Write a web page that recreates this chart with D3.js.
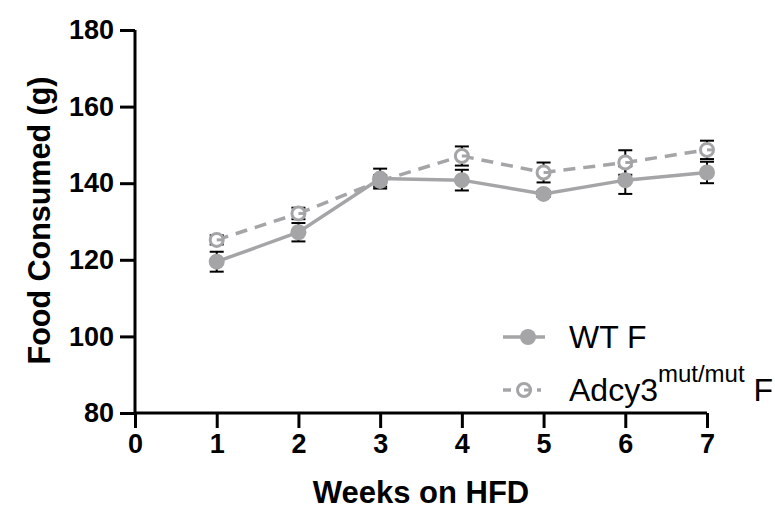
<!DOCTYPE html>
<html>
<head>
<meta charset="utf-8">
<script src="https://cdn.jsdelivr.net/npm/d3@7"></script>
<style>
  body { margin: 0; background: #fff; }
  text { font-family: "Liberation Sans", Arial, sans-serif; }
</style>
</head>
<body>
<div class="chart"></div>
<script>
let weeks = [1, 2, 3, 4, 5, 6, 7];
let wtMean = [119.5, 127.2, 141.2, 140.8, 137.2, 140.8, 142.8];
let wtSem = [2.6, 2.4, 2.6, 2.7, 0.8, 3.6, 2.8];
let mutMean = [125.2, 132.1, 140.6, 147.1, 142.8, 145.4, 148.7];
let mutSem = [1.2, 1.5, 1.5, 2.5, 2.6, 3.2, 2.4];
let xTicks = [0, 1, 2, 3, 4, 5, 6, 7];
let yTicks = [80, 100, 120, 140, 160, 180];

let svgWidth = 775;
let svgHeight = 514;
let margin = { top: 30, right: 68, bottom: 101, left: 135 };
let width = svgWidth - margin.left - margin.right;
let height = svgHeight - margin.top - margin.bottom;
let grey = "#a5a5a8";

let svg = d3.select(".chart")
  .append("svg")
  .attr("width", svgWidth)
  .attr("height", svgHeight);

let chartGroup = svg.append("g")
  .attr("transform", `translate(${margin.left}, ${margin.top})`);

let xScale = d3.scaleLinear().domain([0, 7]).range([0, width]);
let yScale = d3.scaleLinear().domain([80, 180]).range([height, 0]);

// axes
let bottomAxis = d3.axisBottom(xScale).tickValues(xTicks).tickSize(15).tickPadding(6).tickFormat(d3.format("d"));
let leftAxis = d3.axisLeft(yScale).tickValues(yTicks).tickSize(15).tickPadding(6);

let xAxis = chartGroup.append("g")
  .attr("transform", `translate(0, ${height})`)
  .call(bottomAxis);
let yAxis = chartGroup.append("g")
  .call(leftAxis);

[xAxis, yAxis].forEach(function(ax) {
  ax.select(".domain").attr("stroke", "#000").attr("stroke-width", 3);
  ax.selectAll(".tick line").attr("stroke", "#000").attr("stroke-width", 3);
  ax.selectAll(".tick text")
    .attr("fill", "#000")
    .style("font-size", "27px")
    .style("font-weight", "bold");
});
// plain axis lines, no end caps
xAxis.select(".domain").attr("d", `M0,0H${width}`);
yAxis.select(".domain").attr("d", `M0,${height}V0`);

// axis titles
chartGroup.append("text")
  .attr("x", width / 2)
  .attr("y", height + 90)
  .attr("text-anchor", "middle")
  .style("font-size", "31px")
  .style("font-weight", "bold")
  .text("Weeks on HFD");

chartGroup.append("text")
  .attr("transform", "rotate(-90)")
  .attr("x", -height / 2 + 1)
  .attr("y", -margin.left + 50)
  .attr("text-anchor", "middle")
  .style("font-size", "30.5px")
  .style("font-weight", "bold")
  .text("Food Consumed (g)");

let wtData = weeks.map((w, i) => ({ x: w, y: wtMean[i], e: wtSem[i] }));
let mutData = weeks.map((w, i) => ({ x: w, y: mutMean[i], e: mutSem[i] }));

let line = d3.line().x(d => xScale(d.x)).y(d => yScale(d.y));

// WT solid line
chartGroup.append("path")
  .datum(wtData)
  .attr("d", line)
  .attr("fill", "none")
  .attr("stroke", grey)
  .attr("stroke-width", 3.5);

// mutant dashed line, one segment per interval so each starts with a dash
chartGroup.selectAll(".mutseg")
  .data(d3.pairs(mutData))
  .enter()
  .append("path")
  .attr("class", "mutseg")
  .attr("d", d => line(d))
  .attr("fill", "none")
  .attr("stroke", grey)
  .attr("stroke-width", 3.5)
  .attr("stroke-dasharray", "12,8");

// error bars
function drawErr(data, cls) {
  let g = chartGroup.append("g").attr("class", cls);
  let items = g.selectAll("g").data(data).enter().append("g");
  items.append("line")
    .attr("x1", d => xScale(d.x)).attr("x2", d => xScale(d.x))
    .attr("y1", d => yScale(d.y - d.e)).attr("y2", d => yScale(d.y + d.e))
    .attr("stroke", "#000").attr("stroke-width", 2);
  [-1, 1].forEach(function(s) {
    items.append("line")
      .attr("x1", d => xScale(d.x) - 7).attr("x2", d => xScale(d.x) + 7)
      .attr("y1", d => yScale(d.y + s * d.e)).attr("y2", d => yScale(d.y + s * d.e))
      .attr("stroke", "#000").attr("stroke-width", 2);
  });
}
drawErr(mutData, "mut-err");
drawErr(wtData, "wt-err");

// open markers for the mutant
chartGroup.selectAll(".mut-pt")
  .data(mutData)
  .enter()
  .append("circle")
  .attr("class", "mut-pt")
  .attr("cx", d => xScale(d.x))
  .attr("cy", d => yScale(d.y))
  .attr("r", 6.5)
  .attr("fill", "#fff")
  .attr("stroke", grey)
  .attr("stroke-width", 3);

// small stub from centre, as in the source plot
chartGroup.selectAll(".mut-stub")
  .data(mutData)
  .enter()
  .append("line")
  .attr("x1", d => xScale(d.x))
  .attr("x2", d => xScale(d.x) + 6)
  .attr("y1", d => yScale(d.y))
  .attr("y2", d => yScale(d.y))
  .attr("stroke", grey)
  .attr("stroke-width", 3);

// WT filled markers on top
chartGroup.selectAll(".wt-pt")
  .data(wtData)
  .enter()
  .append("circle")
  .attr("class", "wt-pt")
  .attr("cx", d => xScale(d.x))
  .attr("cy", d => yScale(d.y))
  .attr("r", 8)
  .attr("fill", grey);

// legend
let legend = svg.append("g").attr("transform", "translate(503, 0)");
legend.append("line")
  .attr("x1", 0).attr("x2", 42).attr("y1", 337).attr("y2", 337)
  .attr("stroke", grey).attr("stroke-width", 3.5);
legend.append("circle")
  .attr("cx", 25).attr("cy", 337).attr("r", 8).attr("fill", grey);
legend.append("text")
  .attr("x", 66).attr("y", 348)
  .style("font-size", "32px")
  .text("WT F");

legend.append("line")
  .attr("x1", 0).attr("x2", 42).attr("y1", 390).attr("y2", 390)
  .attr("stroke", grey).attr("stroke-width", 3.5)
  .attr("stroke-dasharray", "8,8,13,5,4,20");
legend.append("circle")
  .attr("cx", 21).attr("cy", 390).attr("r", 6.5)
  .attr("fill", "#fff").attr("stroke", grey).attr("stroke-width", 3);
legend.append("line")
  .attr("x1", 21).attr("x2", 27).attr("y1", 390).attr("y2", 390)
  .attr("stroke", grey).attr("stroke-width", 3);
let t2 = legend.append("text")
  .attr("x", 66).attr("y", 401)
  .style("font-size", "32px");
t2.append("tspan").text("Adcy3");
t2.append("tspan").attr("dy", -19).style("font-size", "24px").text("mut/mut");
t2.append("tspan").attr("dy", 19).text(" F");
</script>
</body>
</html>
